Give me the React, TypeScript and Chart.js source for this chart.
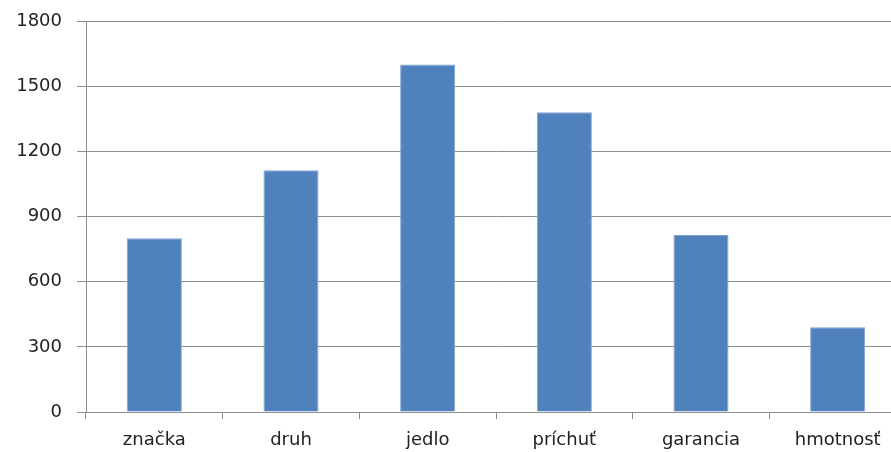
import React, { useEffect, useRef } from "react";
import { Chart, registerables } from "chart.js";

Chart.register(...registerables);

const categories = ["značka", "druh", "jedlo", "príchuť", "garancia", "hmotnosť"];
const counts = [800, 1113, 1600, 1380, 815, 390];
const yMin = 0;
const yMax = 1800;
const yStep = 300;

const barColor = "#4F81BD";
const lineColor = "#8e8e8e";
const textColor = "#222222";
const font = { family: "'DejaVu Sans', sans-serif", size: 18 };

export default function App() {
  const canvasRef = useRef<HTMLCanvasElement | null>(null);

  useEffect(() => {
    const canvas = canvasRef.current;
    if (!canvas) return;
    const chart = new Chart(canvas, {
      type: "bar",
      data: {
        labels: categories,
        datasets: [
          {
            data: counts,
            backgroundColor: barColor,
            borderColor: "#7fa3d1",
            borderWidth: 1,
            categoryPercentage: 1,
            barPercentage: 0.403,
          },
        ],
      },
      options: {
        responsive: false,
        animation: false,
        layout: { padding: { top: 21, right: 0, bottom: 0, left: 0 } },
        plugins: {
          legend: { display: false },
          tooltip: { enabled: false },
        },
        scales: {
          x: {
            offset: true,
            grid: {
              offset: true,
              drawOnChartArea: false,
              drawTicks: true,
              tickLength: 7,
              color: lineColor,
            },
            border: { display: true, color: lineColor },
            ticks: { color: textColor, font, padding: 11, maxRotation: 0 },
            afterFit: (scale: any) => {
              scale.height = 40;
            },
          },
          y: {
            min: yMin,
            max: yMax,
            grid: { color: lineColor, tickLength: 9, drawTicks: true },
            border: { display: true, color: lineColor },
            ticks: {
              stepSize: yStep,
              color: textColor,
              font,
              padding: 15,
              callback: (v: any) => String(v),
            },
            afterFit: (scale: any) => {
              scale.width = 86;
              scale.paddingTop = 0;
              scale.paddingBottom = 0;
            },
          },
        },
      },
    });
    return () => chart.destroy();
  }, []);

  return (
    <div
      style={{
        position: "fixed",
        left: 0,
        top: 0,
        width: 891,
        height: 452,
        overflow: "hidden",
        background: "#fff",
      }}
    >
      <canvas ref={canvasRef} width={906} height={452} style={{ display: "block" }} />
    </div>
  );
}
